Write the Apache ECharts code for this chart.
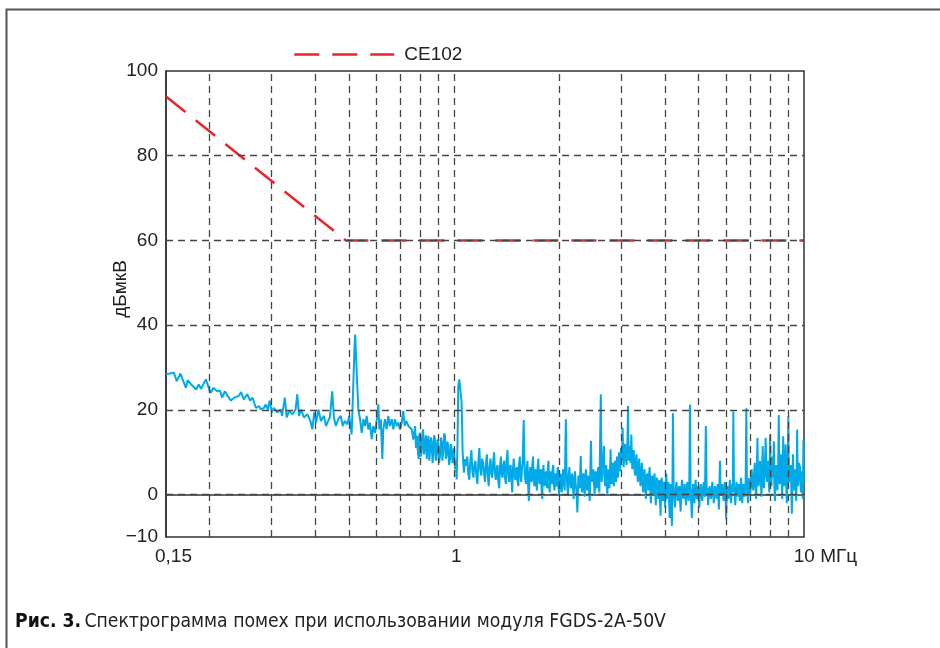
<!DOCTYPE html>
<html>
<head>
<meta charset="utf-8">
<script src="https://cdn.jsdelivr.net/npm/echarts@6/dist/echarts.min.js"></script>
<style>
  html, body { margin: 0; padding: 0; background: #fff; }
  #chart { width: 940px; height: 648px; }
</style>
</head>
<body>
<div id="chart"></div>
<script>
// CE102 limit, MHz / dBuV
var limitMHz = [0.15, 0.49, 10];
var limitDb = [94, 60, 60];

// dashed grid positions
var gridMHz = [0.2, 0.3, 0.4, 0.5, 0.6, 0.7, 0.8, 0.9, 1, 2, 3, 4, 5, 6, 7, 8, 9];
var gridDb = [0, 20, 40, 60, 80];
var yShown = [-10, 0, 20, 40, 60, 80, 100];

var noise = [
  [0.150,28.4],[0.154,28.6],[0.158,28.8],[0.161,26.8],[0.165,28.6],[0.167,27.4],[0.171,25.2],[0.173,27.0],
  [0.177,26.0],[0.180,25.4],[0.183,24.8],[0.186,26.0],[0.189,25.0],[0.195,27.2],[0.198,25.6],[0.201,24.0],
  [0.205,25.2],[0.210,24.4],[0.214,24.6],[0.217,22.9],[0.221,24.4],[0.225,23.3],[0.230,22.2],[0.235,22.9],
  [0.242,23.3],[0.246,24.2],[0.250,22.5],[0.256,23.7],[0.261,22.2],[0.265,22.9],[0.271,20.5],[0.277,20.9],
  [0.280,20.1],[0.286,20.5],[0.289,21.3],[0.293,20.1],[0.297,22.2],[0.301,19.4],[0.305,20.5],[0.312,19.4],
  [0.319,20.1],[0.322,18.6],[0.328,22.9],[0.332,18.2],[0.337,19.7],[0.345,19.0],[0.352,20.1],[0.356,23.7],
  [0.360,18.6],[0.365,20.1],[0.372,18.2],[0.380,19.0],[0.388,17.4],[0.393,15.4],[0.398,19.4],[0.403,17.0],
  [0.409,20.1],[0.416,17.4],[0.424,18.6],[0.430,16.2],[0.436,17.4],[0.441,18.2],[0.448,24.4],
  [0.453,18.2],[0.459,16.2],[0.466,17.8],[0.474,18.6],[0.480,16.2],[0.487,17.4],[0.495,16.6],[0.501,18.6],
  [0.509,14.2],[0.512,20.1],[0.518,33.3],[0.521,37.8],[0.526,29.5],[0.532,20.1],[0.538,17.8],[0.544,14.6],
  [0.550,17.8],[0.556,16.2],[0.562,18.6],[0.568,15.4],[0.574,17.0],[0.581,13.1],[0.587,16.2],[0.594,14.6],
  [0.600,17.4],[0.607,21.3],[0.611,15.4],[0.617,17.8],[0.623,8.4],[0.627,15.4],[0.634,17.8],[0.641,15.4],
  [0.648,18.6],[0.655,16.2],[0.663,17.8],[0.670,15.4],[0.677,17.8],[0.685,16.2],[0.692,17.0],[0.700,15.4],
  [0.708,17.0],[0.715,19.8],[0.722,16.2],[0.729,17.4],[0.740,16.2],[0.748,16.6],[0.756,15.4],
  [0.764,13.0],[0.773,16.2],[0.778,11.0],[0.784,13.9],[0.788,9.5],[0.792,8.4],[0.795,14.0],[0.798,14.6],
  [0.802,9.0],[0.807,10.0],[0.811,14.5],[0.815,15.4],[0.820,9.5],[0.825,11.5],[0.830,14.0],[0.835,8.4],
  [0.840,12.5],[0.844,13.9],[0.849,8.0],[0.853,10.0],[0.858,13.5],[0.863,12.3],[0.867,7.5],[0.871,9.2],
  [0.876,14.0],[0.881,13.1],[0.886,8.0],[0.891,10.0],[0.896,13.0],[0.900,11.5],[0.905,7.5],[0.911,9.2],
  [0.916,13.5],[0.921,12.3],[0.925,8.0],[0.930,10.0],[0.936,14.5],[0.941,13.9],[0.946,8.5],[0.951,9.2],
  [0.956,12.5],[0.962,11.5],[0.967,7.0],[0.973,8.4],[0.978,12.0],[0.984,10.7],[0.989,7.5],[0.994,9.2],
  [1.000,11.0],[1.005,6.0],[1.010,8.0],[1.016,3.6],[1.022,12.0],[1.027,25.6],[1.034,27.2],[1.044,27.2],
  [1.050,21.7],[1.057,10.0],[1.066,5.2],[1.073,8.4],[1.080,6.8],
  [1.090,9.0],[1.097,5.0],[1.105,3.5],[1.112,8.0],[1.120,10.5],[1.127,5.5],[1.135,4.0],[1.142,7.0],
  [1.150,8.0],[1.157,4.5],[1.165,2.5],[1.172,7.5],[1.180,11.0],[1.187,6.0],[1.195,4.5],[1.202,8.5],
  [1.210,7.5],[1.217,5.0],[1.225,3.0],[1.232,7.0],[1.240,9.5],[1.247,4.5],[1.255,2.0],[1.262,6.5],
  [1.270,8.5],[1.277,5.0],[1.285,4.0],[1.292,7.5],[1.300,10.0],[1.307,5.5],[1.315,3.5],[1.322,6.0],
  [1.330,7.0],[1.337,3.0],[1.345,1.5],[1.352,6.5],[1.360,9.0],[1.367,5.0],[1.375,4.0],[1.382,7.0],
  [1.390,8.0],[1.397,4.0],[1.405,2.5],[1.412,8.0],[1.420,10.5],[1.427,5.0],[1.435,3.0],[1.442,6.5],
  [1.450,7.0],[1.457,3.5],[1.465,0.5],[1.472,6.0],[1.480,8.5],[1.487,4.5],[1.495,3.5],[1.502,6.0],
  [1.510,6.5],[1.517,3.0],[1.525,2.0],[1.532,7.0],[1.540,9.0],[1.547,4.5],[1.555,3.0],[1.562,6.0],
  [1.570,8.0],[1.580,17.6],[1.590,5.0],[1.597,3.5],[1.605,2.5],[1.612,6.5],[1.620,8.0],[1.627,2.0],
  [1.635,-1.5],[1.642,4.5],[1.650,6.5],[1.657,3.5],[1.665,3.0],[1.672,7.0],[1.680,9.0],[1.687,4.0],
  [1.695,2.0],[1.702,5.0],[1.710,6.0],[1.717,2.5],[1.725,1.0],[1.732,6.5],[1.740,8.5],[1.747,4.0],
  [1.755,2.5],[1.762,5.0],[1.770,6.0],[1.777,1.5],[1.785,-1.0],[1.792,5.0],[1.800,7.0],[1.807,3.0],
  [1.815,2.0],[1.822,4.5],[1.830,5.5],[1.837,2.5],[1.845,1.5],[1.852,6.5],[1.860,8.0],[1.867,2.5],
  [1.875,0.5],[1.882,4.5],[1.890,5.5],[1.897,3.0],[1.905,2.5],[1.912,6.0],[1.920,7.0],[1.927,2.5],
  [1.935,1.0],[1.942,4.0],[1.950,5.0],[1.957,2.5],[1.965,2.0],[1.972,5.5],[1.980,6.5],[1.987,2.0],
  [1.995,0.0],
  [2.010,5.0],[2.020,2.5],[2.030,0.5],[2.040,4.5],[2.050,6.0],[2.060,2.5],[2.070,1.0],[2.085,17.8],
  [2.095,5.5],[2.105,2.0],[2.115,0.0],[2.125,4.5],[2.135,6.5],[2.145,3.0],[2.155,1.5],[2.165,4.0],
  [2.175,5.0],[2.185,1.5],[2.195,-1.0],[2.205,3.5],[2.215,5.5],[2.225,2.5],[2.235,1.0],[2.250,-4.2],
  [2.265,4.5],[2.275,3.0],[2.285,1.5],[2.300,9.1],[2.310,3.5],[2.320,0.5],[2.330,3.5],[2.340,5.0],
  [2.350,2.0],[2.360,-0.5],[2.370,4.0],[2.380,6.0],[2.390,2.5],[2.400,1.0],[2.410,3.5],[2.420,4.5],
  [2.430,1.0],[2.440,-1.5],[2.460,12.7],[2.470,4.5],[2.480,3.0],[2.490,5.0],[2.500,6.0],[2.510,2.5],
  [2.520,0.0],[2.530,4.0],[2.540,5.5],[2.550,3.0],[2.560,1.5],[2.570,4.5],[2.580,6.5],[2.590,3.0],
  [2.600,0.5],[2.625,23.7],[2.640,3.0],[2.650,5.0],[2.660,6.5],[2.680,11.5],[2.690,4.0],[2.700,2.0],
  [2.710,5.0],[2.720,7.0],[2.730,3.0],[2.740,0.0],[2.750,4.0],[2.760,6.0],[2.770,3.5],[2.780,1.5],
  [2.800,10.7],[2.810,4.5],[2.820,2.5],[2.830,5.5],[2.840,7.5],[2.850,4.0],[2.860,2.0],[2.870,6.0],
  [2.880,8.0],[2.890,4.5],[2.900,3.0],[2.910,6.5],[2.920,9.0],[2.930,5.5],[2.940,4.0],[2.950,8.0],
  [2.960,10.0],[2.970,7.0],[2.980,5.5],[2.990,9.0],[3.000,11.0],[3.015,8.0],[3.030,15.8],[3.040,9.5],
  [3.050,6.5],[3.065,10.0],[3.080,12.0],[3.095,8.5],[3.110,7.0],[3.125,10.5],[3.140,20.9],[3.150,10.0],
  [3.160,8.0],[3.170,10.0],[3.180,11.5],[3.195,7.5],[3.210,14.2],[3.220,8.5],[3.230,6.0],[3.245,9.0],
  [3.260,10.5],[3.275,6.5],[3.290,4.5],[3.305,8.0],[3.320,9.5],[3.335,5.0],[3.350,3.0],[3.365,7.0],
  [3.380,8.5],[3.395,4.0],[3.410,2.0],
  [3.425,5.5],[3.440,7.5],[3.455,3.0],[3.470,0.5],[3.485,4.5],[3.500,6.0],[3.515,2.0],[3.530,-1.0],
  [3.545,3.5],[3.560,5.0],[3.575,2.5],[3.590,1.0],[3.605,4.5],[3.620,6.5],[3.635,1.5],[3.650,-2.0],
  [3.665,2.5],[3.680,4.5],[3.695,2.0],[3.710,0.0],[3.725,3.5],[3.740,5.0],[3.755,0.5],[3.770,-2.5],
  [3.785,2.5],[3.800,4.0],[3.815,1.0],[3.830,-1.0],[3.845,2.5],[3.860,3.5],[3.875,-1.0],[3.890,-5.0],
  [3.905,2.0],[3.920,4.0],[3.935,1.0],[3.950,-1.5],[3.965,2.0],[3.980,3.0],[3.995,0.0],[4.010,-3.0],
  [4.025,2.5],[4.040,5.0],[4.055,1.5],[4.070,-1.0],[4.085,1.5],[4.100,3.0],[4.115,-1.5],[4.130,-5.5],
  [4.145,0.5],[4.160,2.5],[4.175,-2.0],[4.190,-7.4],[4.205,1.0],[4.220,19.2],[4.240,1.0],[4.260,-1.0],
  [4.280,-3.0],[4.300,1.5],[4.320,3.0],[4.340,0.5],[4.360,-1.5],[4.380,1.0],[4.400,2.0],[4.420,-1.0],
  [4.440,-4.0],[4.460,1.5],[4.480,3.5],[4.500,0.5],[4.520,-1.0],[4.540,1.5],[4.560,2.5],[4.580,-0.5],
  [4.600,-2.5],[4.620,1.5],[4.640,3.0],[4.660,0.0],[4.680,-1.5],[4.700,2.0],[4.720,21.3],[4.740,0.5],
  [4.760,-2.0],[4.780,-5.5],[4.800,0.5],[4.820,2.5],[4.840,0.0],[4.860,-2.0],[4.880,1.5],[4.900,3.5],
  [4.920,0.5],[4.940,-1.0],[4.960,1.0],[4.980,2.0],[5.000,-0.5],[5.020,-3.0],[5.045,1.0],[5.070,2.5],
  [5.095,0.0],[5.120,-1.5],[5.145,1.5],[5.170,3.0],[5.190,0.5],[5.210,-0.5],[5.240,16.2],[5.270,0.0],
  [5.295,1.5],[5.320,-2.5],[5.345,0.5],[5.370,2.0],[5.395,0.0],[5.420,-1.0],[5.445,1.0],[5.470,3.0],
  [5.495,0.5],[5.520,-2.0],[5.545,0.5],[5.570,2.0],[5.595,0.5],[5.620,-1.0],[5.645,1.0],[5.670,2.5],
  [5.690,0.0],[5.710,-3.5],[5.750,8.0],[5.770,1.5],[5.790,0.0],[5.815,1.5],[5.840,2.5],[5.865,0.5],
  [5.890,-1.5],[5.915,1.0],[5.940,3.0],[5.965,0.0],[5.990,-5.8],[6.015,0.5],[6.040,2.0],[6.065,0.5],
  [6.090,-1.0],[6.115,1.5],[6.140,3.5],[6.165,0.5],[6.190,-2.0],[6.215,1.0],[6.240,2.5],[6.260,0.5],
  [6.280,19.6],[6.310,0.5],[6.335,1.5],[6.360,-2.5],[6.385,1.0],[6.410,3.0],[6.435,1.0],[6.460,-0.5],
  [6.485,1.5],[6.510,2.5],[6.535,0.0],[6.560,-1.5],[6.585,2.0],[6.610,4.0],[6.635,0.5],[6.660,-2.0],
  [6.685,1.0],[6.710,2.5],[6.735,0.5],[6.760,-0.5],[6.785,1.5],[6.810,3.0],[6.840,20.4],[6.870,1.0],
  [6.895,0.0],[6.920,-2.0],[6.945,2.0],[6.970,4.0],[6.995,1.5],[7.020,0.0],[7.055,3.0],[7.090,6.0],
  [7.125,2.5],[7.160,1.0],[7.195,4.5],[7.230,7.5],[7.265,2.0],[7.300,-1.0],[7.330,5.0],[7.360,13.4],
  [7.390,4.0],[7.420,2.0],[7.455,5.5],[7.490,8.0],[7.525,3.0],[7.560,-0.5],[7.590,6.0],[7.620,11.5],
  [7.650,4.0],[7.680,1.5],[7.725,6.0],[7.770,13.4],[7.805,5.0],[7.840,3.0],[7.870,6.0],[7.900,8.0],
  [7.930,3.0],[7.960,0.5],[8.000,14.2],[8.035,5.0],[8.070,2.0],[8.100,6.0],[8.130,9.0],[8.165,4.0],
  [8.200,12.6],[8.230,2.0],[8.260,-1.5],[8.295,4.0],[8.330,7.0],[8.365,3.0],[8.400,1.0],[8.435,6.0],
  [8.470,18.8],[8.505,4.0],[8.540,2.5],[8.570,6.5],[8.600,9.5],[8.630,3.0],[8.660,-1.0],[8.690,5.0],
  [8.720,13.8],[8.755,4.0],[8.790,2.0],[8.825,6.0],[8.860,11.9],[8.895,3.0],[8.930,-2.0],[8.975,5.0],
  [9.020,18.5],[9.055,5.0],[9.090,3.0],[9.125,5.5],[9.160,7.0],[9.195,2.0],[9.230,-4.5],[9.265,4.0],
  [9.300,9.5],[9.335,3.5],[9.370,1.0],[9.400,4.5],[9.430,6.0],[9.465,2.0],[9.500,-1.5],[9.530,5.0],
  [9.560,15.4],[9.590,4.0],[9.620,2.0],[9.655,5.5],[9.690,7.5],[9.715,3.0],[9.740,6.8],[9.770,3.0],
  [9.800,0.5],[9.830,4.0],[9.860,5.5],[9.890,2.0],[9.920,-1.0],[9.940,5.0],[9.960,13.0],[9.980,3.0],
  [10.000,4.0]
];

var font = 'Liberation Sans, Arial, sans-serif';
var capFont = 'DejaVu Sans Condensed, Liberation Sans Narrow, sans-serif';
var myChart = echarts.init(document.getElementById('chart'));

var limitData = [];
for (var i = 0; i < limitMHz.length; i++) {
  limitData.push([limitMHz[i], limitDb[i]]);
}
var gridMarks = [];
for (var j = 0; j < gridMHz.length; j++) gridMarks.push({ xAxis: gridMHz[j] });
for (var k = 0; k < gridDb.length; k++) gridMarks.push({ yAxis: gridDb[k] });

myChart.setOption({
  animation: false,
  textStyle: { fontFamily: font },
  grid: {
    left: 166, top: 71, width: 638, height: 466,
    show: true, borderColor: '#333', borderWidth: 1.5
  },
  legend: {
    data: ['CE102'],
    left: 288, top: 40,
    itemWidth: 100, itemHeight: 18, itemGap: 10,
    itemStyle: { opacity: 0 },
    lineStyle: { color: '#e8262d', width: 2.5, type: [25, 13] },
    textStyle: { fontSize: 19, color: '#222', fontFamily: font, padding: [0, 0, 0, 5] }
  },
  xAxis: {
    type: 'log', logBase: 10, min: 0.15, max: 10,
    axisLine: { show: true, lineStyle: { color: '#333', width: 1.5 } },
    axisTick: { show: false },
    splitLine: { show: false },
    axisLabel: {
      margin: 10,
      formatter: function (v) {
        if (Math.abs(v - 0.15) < 1e-6) return '{a|0,15}';
        if (Math.abs(v - 10) < 1e-6) return '{b|10 МГц}';
        if (Math.abs(v - 1) < 1e-6) return '{c|1}';
        return '';
      },
      rich: {
        a: { fontSize: 19, color: '#222', fontFamily: font, padding: [0, 0, 0, 15] },
        b: { fontSize: 19, color: '#222', fontFamily: font, padding: [0, 0, 0, 43] },
        c: { fontSize: 19, color: '#222', fontFamily: font, padding: [0, 0, 0, 4] }
      }
    }
  },
  yAxis: {
    type: 'value', min: -10, max: 100, interval: 10,
    name: 'дБмкВ', nameLocation: 'middle', nameGap: 36, nameMoveOverlap: false,
    nameTextStyle: { fontSize: 19, color: '#222', fontFamily: font, padding: [0, 0, 0, 30] },
    axisLine: { show: true, lineStyle: { color: '#333', width: 1.5 } },
    axisTick: { show: false },
    splitLine: { show: false },
    axisLabel: {
      margin: 8, fontSize: 19, color: '#222',
      formatter: function (v) {
        if (yShown.indexOf(v) < 0) return '';
        return v < 0 ? '\u2212' + Math.abs(v) : String(v);
      }
    }
  },
  series: [
    {
      name: 'grid', type: 'line', data: [], z: 1, silent: true,
      markLine: {
        silent: true, symbol: 'none', animation: false,
        label: { show: false },
        lineStyle: { color: '#444', width: 1.3, type: [7, 5] },
        data: gridMarks
      }
    },
    {
      name: 'spectrum', type: 'line', data: noise, z: 2,
      showSymbol: false, symbol: 'none', sampling: null,
      lineStyle: { color: '#00a9e8', width: 2 }
    },
    {
      name: 'CE102', type: 'line', data: limitData, z: 3,
      showSymbol: false, symbol: 'none', symbolSize: 0,
      itemStyle: { color: '#e8262d' },
      lineStyle: { color: '#e8262d', width: 2.5, type: [25, 13] }
    }
  ],
  graphic: [
    { type: 'polyline', silent: true,
      shape: { points: [[6.5, 648], [6.5, 9.5], [940, 9.5]] },
      style: { stroke: '#555', lineWidth: 2, fill: null } },
    { type: 'text', left: 15, top: 613,
      style: {
        text: '{b|Рис. 3.} {r|Спектрограмма помех при использовании модуля FGDS\u20112A\u201150V}',
        rich: {
          b: { fontFamily: capFont, fontWeight: 'bold', fontSize: 19.2, fill: '#111' },
          r: { fontFamily: capFont, fontSize: 19.2, fill: '#222' }
        }
      } }
  ]
});
</script>
</body>
</html>
